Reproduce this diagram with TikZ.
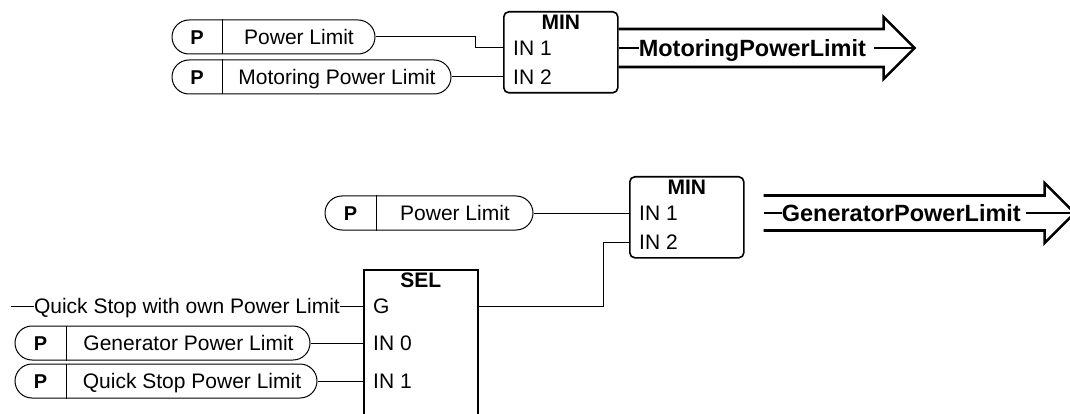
\documentclass[tikz,border=0pt]{standalone}
\usepackage{fontspec}
\setmainfont{Liberation Sans}
\usetikzlibrary{calc}

\begin{document}
\begin{tikzpicture}[x=1pt, y=-1pt,
    pill/.style={draw, line width=1pt, rounded corners=17pt, minimum height=34pt, inner sep=0pt},
    pkey/.style={font=\fontsize{20pt}{24pt}\selectfont\bfseries, inner sep=0pt,
                 text height=14.3pt, text depth=0pt},
    lbl/.style={font=\fontsize{21pt}{25pt}\selectfont, inner sep=0pt,
                text height=15pt, text depth=0pt},
    blk/.style={draw, line width=1.6pt, rounded corners=5pt, minimum width=114pt,
                minimum height=81pt, anchor=north west, inner sep=0pt},
    ttl/.style={font=\fontsize{21pt}{25pt}\selectfont\bfseries, inner sep=0pt,
                text height=15pt, text depth=0pt},
    wire/.style={line width=1pt},
    bigarr/.style={line width=2.6pt, line join=miter},
    sig/.style={font=\fontsize{23.5pt}{28pt}\selectfont\bfseries, inner sep=0pt,
                text height=16.8pt, text depth=0pt, anchor=west}
]
  \useasboundingbox (0,0) rectangle (1070,414);
  \clip (0,0) rectangle (1070,414);

  % Motoring power limit
  \node[pill, minimum width=203pt] (plim) at (273.5,37) {};
  \node[pkey] (plimP) at ([xshift=25.5pt]plim.west) {P};
  \draw[wire] ([xshift=51pt]plim.north west) -- ([xshift=51pt]plim.south west);
  \node[lbl] (plimT) at ($([xshift=51pt]plim.west)!0.5!(plim.east)$) {Power Limit};

  \node[pill, minimum width=279pt] (pmot) at (311.5,77) {};
  \node[pkey] (pmotP) at ([xshift=25.5pt]pmot.west) {P};
  \draw[wire] ([xshift=51pt]pmot.north west) -- ([xshift=51pt]pmot.south west);
  \node[lbl] (pmotT) at ($([xshift=51pt]pmot.west)!0.5!(pmot.east)$) {Motoring Power Limit};

  \node[blk] (min1) at (503,11) {};
  \node[ttl] (min1T) at ([yshift=-11pt]min1.north) {MIN};
  \coordinate (min1a) at ([yshift=-37pt]min1.north west);
  \coordinate (min1b) at ([yshift=-66pt]min1.north west);
  \node[lbl, anchor=west] (min1aT) at ([xshift=10pt]min1a) {IN 1};
  \node[lbl, anchor=west] (min1bT) at ([xshift=10pt]min1b) {IN 2};

  \draw[wire] (plim.east) -- ++(100,0) |- (min1a);
  \draw[wire] (pmot.east) -- (min1b);

  \coordinate (a1s) at (min1.east |- min1a);
  \coordinate (a1tip) at ($(a1s)+(296,0)$);
  \draw[bigarr] ($(a1s)+(0,-19)$) -- ++(265,0) -- ++(0,-12) -- (a1tip)
    -- ++(-31,31) -- ++(0,-12) -- ($(a1s)+(0,19)$);
  \node[sig] (a1T) at ($(a1s)+(20,0)$) {MotoringPowerLimit};
  \draw[bigarr] (a1s) -- (a1T.west);
  \draw[bigarr] ($(a1T.east)+(8,0)$) -- (a1tip);

  % Generator power limit
  \node[pill, minimum width=208pt] (pgl) at (429,213) {};
  \node[pkey] (pglP) at ([xshift=26pt]pgl.west) {P};
  \draw[wire] ([xshift=52pt]pgl.north west) -- ([xshift=52pt]pgl.south west);
  \node[lbl] (pglT) at ($([xshift=52pt]pgl.west)!0.5!(pgl.east)$) {Power Limit};

  \node[blk] (min2) at (629,176) {};
  \node[ttl] (min2T) at ([yshift=-11pt]min2.north) {MIN};
  \coordinate (min2a) at ([yshift=-37pt]min2.north west);
  \coordinate (min2b) at ([yshift=-66pt]min2.north west);
  \node[lbl, anchor=west] (min2aT) at ([xshift=10pt]min2a) {IN 1};
  \node[lbl, anchor=west] (min2bT) at ([xshift=10pt]min2b) {IN 2};

  \draw[wire] (pgl.east) -- (min2a);

  \coordinate (a2s) at ($(min2.east |- min2a)+(19,0)$);
  \coordinate (a2tip) at ($(a2s)+(311,0)$);
  \draw[bigarr] ($(a2s)+(0,-17.5)$) -- ++(281,0) -- ++(0,-12.5) -- (a2tip)
    -- ++(-30,30) -- ++(0,-12.5) -- ($(a2s)+(0,17.5)$);
  \node[sig] (a2T) at ($(a2s)+(18,0)$) {GeneratorPowerLimit};
  \draw[bigarr] (a2s) -- (a2T.west);
  \draw[bigarr] ($(a2T.east)+(5,0)$) -- (a2tip);

  % Selector
  \node[blk, rounded corners=0pt, minimum height=160pt] (sel) at (363,269) {};
  \node[ttl] (selT) at ([yshift=-11pt]sel.north) {SEL};
  \coordinate (selG) at ([yshift=-37pt]sel.north west);
  \coordinate (sel0) at ([yshift=-74pt]sel.north west);
  \coordinate (sel1) at ([yshift=-112pt]sel.north west);
  \node[lbl, anchor=west] (selGT) at ([xshift=10pt]selG) {G};
  \node[lbl, anchor=west] (sel0T) at ([xshift=10pt]sel0) {IN 0};
  \node[lbl, anchor=west] (sel1T) at ([xshift=10pt]sel1) {IN 1};

  \node[lbl, anchor=east] (qs) at ($(selG)+(-23,0)$) {Quick Stop with own Power Limit};
  \coordinate (qsIn) at ($(qs.west)+(-23,0)$);
  \draw[wire] (qsIn) -- (qs.west);
  \draw[wire] (qs.east) -- (selG);

  \node[pill, minimum width=295pt] (pgen) at (162.5,343) {};
  \node[pkey] (pgenP) at ([xshift=26pt]pgen.west) {P};
  \draw[wire] ([xshift=52pt]pgen.north west) -- ([xshift=52pt]pgen.south west);
  \node[lbl] (pgenT) at ($([xshift=52pt]pgen.west)!0.5!(pgen.east)$) {Generator Power Limit};

  \node[pill, minimum width=302pt] (pqs) at (166,381) {};
  \node[pkey] (pqsP) at ([xshift=26pt]pqs.west) {P};
  \draw[wire] ([xshift=52pt]pqs.north west) -- ([xshift=52pt]pqs.south west);
  \node[lbl] (pqsT) at ($([xshift=52pt]pqs.west)!0.5!(pqs.east)$) {Quick Stop Power Limit};

  \draw[wire] (pgen.east) -- (sel0);
  \draw[wire] (pqs.east) -- (sel1);
  \draw[wire] (sel.east |- selG) -- ++(125,0) |- (min2b);
\end{tikzpicture}
\end{document}
